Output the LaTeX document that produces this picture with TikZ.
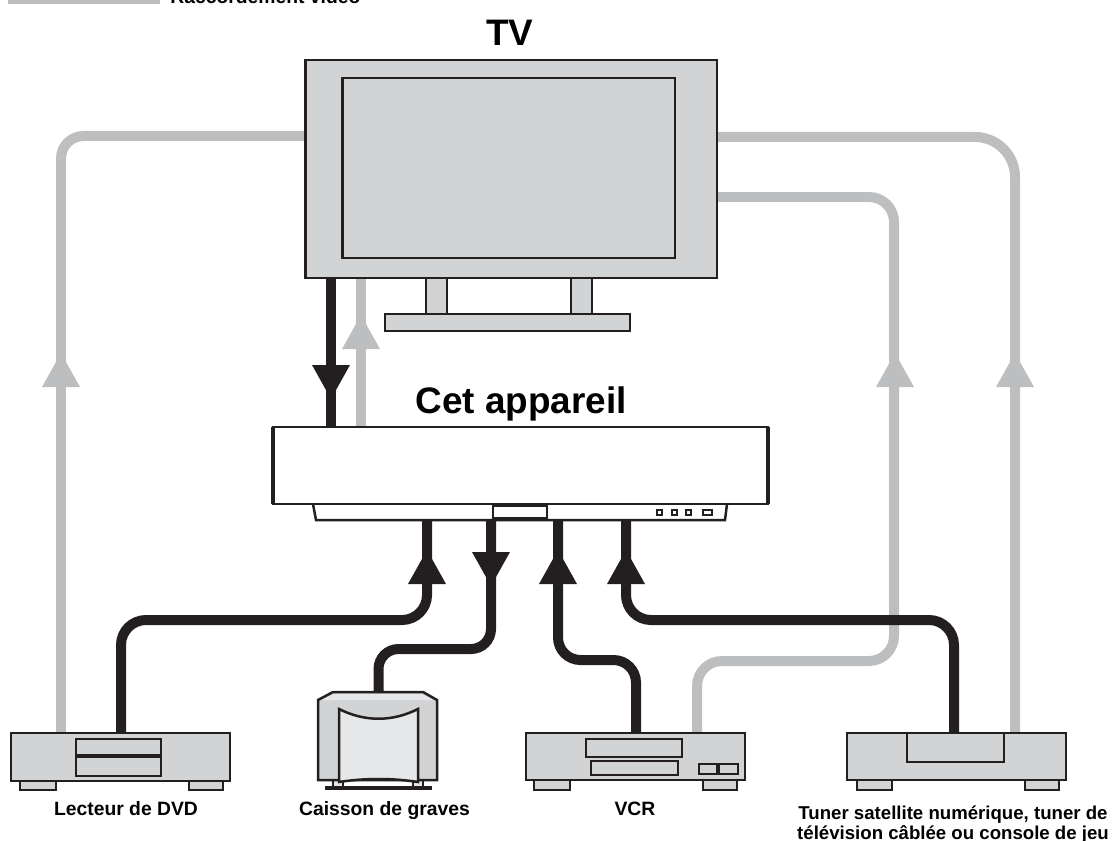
\documentclass[tikz,border=0pt]{standalone}
\usepackage{fontspec}
\setmainfont{Liberation Sans}
\definecolor{ink}{HTML}{231F20}
\definecolor{cablegray}{HTML}{BCBEC0}
\definecolor{bodygray}{HTML}{D1D3D4}
\definecolor{facegray}{HTML}{E6E7E8}
\tikzset{
  vcable/.style={draw=cablegray,line width=0.2cm},
  acable/.style={draw=ink,line width=0.2cm},
  body/.style={draw=ink,line width=0.05cm,fill=bodygray},
  lbl/.style={font=\bfseries\fontsize{11}{11.4}\selectfont,inner sep=0pt},
  title/.style={font=\bfseries\fontsize{21}{25}\selectfont,inner sep=0pt},
  tipup/.pic={\fill (0,0) -- (19,34) -- (-19,34) -- cycle;},
  tipdown/.pic={\fill (0,0) -- (19,-34) -- (-19,-34) -- cycle;}
}
\begin{document}
\begin{tikzpicture}[x=0.02cm,y=-0.02cm]
    \useasboundingbox (0,0) rectangle (1112,841);
    % legend, cut by the page edge
    \fill[cablegray] (8,-8) rectangle (160,4);
    \node[lbl,anchor=base west] (legend) at (170,4) {Raccordement vidéo};
    % cable ends
    \coordinate (tvW) at (305,136);
    \coordinate (tvE1) at (717,137);
    \coordinate (tvE2) at (717,197);
    \coordinate (tvS1) at (331,278);
    \coordinate (tvS2) at (361,278);
    \coordinate (uT1) at (331,427);
    \coordinate (uT2) at (361,427);
    \coordinate (uB1) at (427,520);
    \coordinate (uB2) at (491,520);
    \coordinate (uB3) at (558,520);
    \coordinate (uB4) at (626,520);
    \coordinate (dvdA) at (61,733);
    \coordinate (dvdB) at (121,733);
    \coordinate (subT) at (378.5,692);
    \coordinate (vcrB) at (636,733);
    \coordinate (vcrA) at (697,733);
    \coordinate (tunB) at (954,733);
    \coordinate (tunA) at (1015,733);
    % video cables
    \draw[vcable,rounded corners=0.45cm] (dvdA) |- (tvW);
    \draw[vcable,rounded corners=0.8cm] (tunA) |- (tvE1);
    \draw[vcable,rounded corners=0.5cm] (vcrA) -- ++(0,-72) -- ++(197,0) |- (tvE2);
    \draw[vcable] (uT2) -- (tvS2);
    % audio cables
    \draw[acable] (tvS1) -- (uT1);
    \draw[acable,rounded corners=0.5cm] (dvdB) -- ++(0,-113) -| (uB1);
    \draw[acable,rounded corners=0.4cm] (subT) -- ++(0,-43) -| (uB2);
    \draw[acable,rounded corners=0.45cm] (vcrB) -- ++(0,-73) -| (uB3);
    \draw[acable,rounded corners=0.5cm] (tunB) -- ++(0,-113) -| (uB4);
    % arrow heads
    \pic[cablegray] at (61,353) {tipup};
    \pic[cablegray] at (895,353) {tipup};
    \pic[cablegray] at (1015,353) {tipup};
    \pic[cablegray] at (361,315) {tipup};
    \pic[ink] at (331,399) {tipdown};
    \pic[ink] at (427,550) {tipup};
    \pic[ink] at (491,586) {tipdown};
    \pic[ink] at (558,550) {tipup};
    \pic[ink] at (626,550) {tipup};
    % TV set
    \draw[body] (305.5,60) rectangle (717,278);
    \draw[body] (342.5,78) rectangle (675,258);
    \draw[body] (426,278) rectangle (447,314);
    \draw[body] (571,278) rectangle (592,314);
    \draw[body] (385,314) rectangle (630,331);
    \node[title,anchor=base] (tv) at (510,45.5) {TV};
    % the unit
    \draw[ink,line width=0.05cm,fill=white] (313,504) -- (316,520) -- (725,520) -- (727,504);
    \draw[ink,line width=0.05cm,fill=white] (273,427) rectangle (768,504);
    \draw[ink,line width=0.09cm] (273,427) -- (273,504) (768,427) -- (768,504);
    \draw[ink,line width=0.05cm] (493,506) rectangle (547,518);
    \foreach \bx in {659,674,688}
        \draw[ink,line width=0.04cm] (\bx-2.5,509.5) rectangle (\bx+2.5,515);
    \draw[ink,line width=0.04cm] (703,509.5) rectangle (712,515);
    \node[title,anchor=base] (unit) at (521,413) {Cet appareil};
    % DVD player
    \draw[body] (20,778) rectangle (56,790);
    \draw[body] (189,778) rectangle (223,790);
    \draw[body] (11,733) rectangle (230,781);
    \draw[body] (76,739) rectangle (161,755);
    \draw[body] (76,757) rectangle (161,776);
    \node[lbl,anchor=base] (dvd) at (126,815) {Lecteur de DVD};
    % subwoofer
    \fill[ink] (325,786) rectangle (432,790);
    \draw[ink,line width=0.04cm,fill=facegray] (333,778) rectangle (343,787);
    \draw[ink,line width=0.04cm,fill=facegray] (413,778) rectangle (423,787);
    \draw[body] (333,692) -- (423,692) -- (437,700) -- (437,780) -- (318,780) -- (318,700) -- cycle;
    \fill[facegray] (334,694) -- (422,694) -- (433,700) -- (322,700) -- cycle;
    \draw[ink,line width=0.05cm,fill=facegray] (339,709) .. controls (365,722) and (392,722) .. (418,709)
        -- (418,782) .. controls (392,778) and (365,778) .. (339,782) -- cycle;
    \node[lbl,anchor=base] (sub) at (384.5,815) {Caisson de graves};
    % VCR
    \draw[body] (534,778) rectangle (570,790);
    \draw[body] (703,778) rectangle (737,790);
    \draw[body] (526,733) rectangle (745,780);
    \draw[body] (586,739) rectangle (682,757);
    \draw[body] (591,761) rectangle (678,775);
    \draw[body] (699,764) rectangle (717,774);
    \draw[body] (719,764) rectangle (738,774);
    \node[lbl,anchor=base] (vcr) at (635,815) {VCR};
    % tuner / console
    \draw[body] (857,778) rectangle (892,790);
    \draw[body] (1025,778) rectangle (1059,790);
    \draw[body] (847,733) rectangle (1066,780);
    \draw[body] (907,733) rectangle (1004,762);
    \node[lbl,font=\bfseries\fontsize{10.6}{11.4}\selectfont,anchor=base,align=center] (tuner) at (953,839.5)
        {Tuner satellite numérique, tuner de\\télévision câblée ou console de jeu};
\end{tikzpicture}
\end{document}
